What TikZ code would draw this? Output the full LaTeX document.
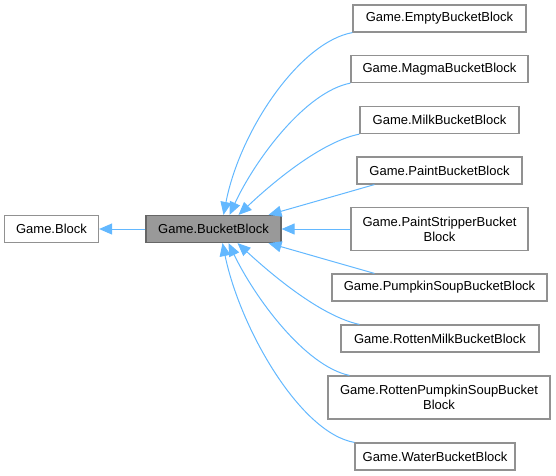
\documentclass[tikz,border=0pt]{standalone}
\usepackage{fontspec}
\setmainfont{Liberation Sans}
\usetikzlibrary{arrows.meta}
\definecolor{boxgray}{HTML}{919191}
\definecolor{darkgray}{HTML}{666666}
\definecolor{fillgray}{HTML}{999999}
\definecolor{edgeblue}{HTML}{63B8FF}

\begin{document}
\begin{tikzpicture}[x=1pt,y=-1pt,
	cls/.style={rectangle, draw=boxgray, line width=1.2pt, fill=white, inner sep=0pt, minimum height=27pt, align=center, font=\fontsize{13}{15}\selectfont},
	inh/.style={draw=edgeblue, line width=1pt, -{Triangle[length=13pt,width=11pt]}, fill=none}]
		\useasboundingbox (0,0) rectangle (556,475);

		\node[cls, minimum width=94pt] (block) at (51.5,229) {Game.Block};
		\node[cls, minimum width=135pt, draw=darkgray, fill=fillgray] (bucket) at (213.5,229) {Game.BucketBlock};
		\draw[inh] (bucket) -- (block);

		\node[cls, minimum width=173pt] (empty) at (439.5,18.5) {Game.EmptyBucketBlock};
		\node[cls, minimum width=177pt] (magma) at (439.5,69) {Game.MagmaBucketBlock};
		\node[cls, minimum width=159pt] (milk) at (439.5,120) {Game.MilkBucketBlock};
		\node[cls, minimum width=165pt] (paint) at (439.5,170.5) {Game.PaintBucketBlock};
		\node[cls, minimum width=177pt, minimum height=43pt] (stripper) at (439.5,229) {Game.PaintStripperBucket\\Block};
		\node[cls, minimum width=215pt] (pumpkin) at (439.5,287.5) {Game.PumpkinSoupBucketBlock};
		\node[cls, minimum width=198pt] (rottenmilk) at (440,338.5) {Game.RottenMilkBucketBlock};
		\node[cls, minimum width=222pt, minimum height=43pt] (rottenpumpkin) at (439,397.5) {Game.RottenPumpkinSoupBucket\\Block};
		\node[cls, minimum width=160pt] (water) at (435,456.5) {Game.WaterBucketBlock};

		\draw[inh] (empty.south west) .. controls (300,42) and (240,130) .. ([xshift=10pt]bucket.north);
		\draw[inh] (magma.south west) .. controls (305,92) and (255,160) .. ([xshift=16pt]bucket.north);
		\draw[inh] (milk.south west) .. controls (320,142) and (270,185) .. ([xshift=25pt]bucket.north);
		\draw[inh] ([xshift=18pt]paint.south west) -- ([xshift=55pt]bucket.north);
		\draw[inh] (stripper) -- (bucket);
		\draw[inh] ([xshift=43pt]pumpkin.north west) -- ([xshift=55pt]bucket.south);
		\draw[inh] ([xshift=19pt]rottenmilk.north west) .. controls (320,316) and (270,273) .. ([xshift=24pt]bucket.south);
		\draw[inh] ([xshift=22pt]rottenpumpkin.north west) .. controls (305,366) and (255,298) .. ([xshift=15pt]bucket.south);
		\draw[inh] (water.north west) .. controls (300,433) and (240,328) .. ([xshift=9pt]bucket.south);
		\end{tikzpicture}
\end{document}
